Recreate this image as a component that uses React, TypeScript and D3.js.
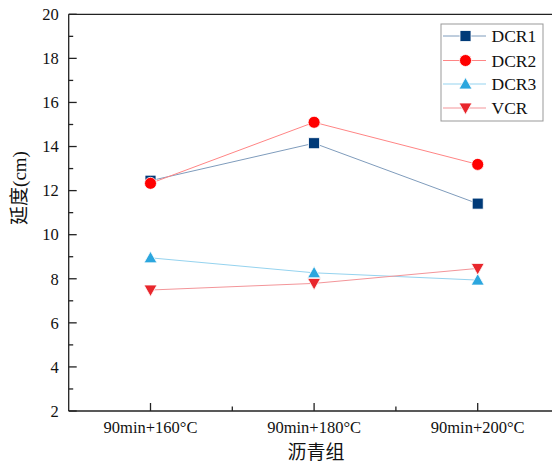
import React from "react";
import * as d3 from "d3";

const categories = ["90min+160°C", "90min+180°C", "90min+200°C"];
const dcr1 = [12.45, 14.15, 11.41];
const dcr2 = [12.33, 15.1, 13.19];
const dcr3 = [8.95, 8.27, 7.94];
const vcr = [7.49, 7.79, 8.47];
const yTicks = [2, 4, 6, 8, 10, 12, 14, 16, 18, 20];
const seriesNames = ["DCR1", "DCR2", "DCR3", "VCR"];

const W = 552;
const H = 464;
const left = 68.7;
const right = 559.5;
const top = 14.3;
const bottom = 411;

const SERIF = "Liberation Serif";
const CJK = "Noto Sans CJK SC";
const INK = "#111";

type Series = { name: string; values: number[]; color: string; line: string; shape: string };

const series: Series[] = [
  { name: seriesNames[0], values: dcr1, color: "#003a78", line: "#7f9cbc", shape: "square" },
  { name: seriesNames[1], values: dcr2, color: "#ff0000", line: "#ff8585", shape: "circle" },
  { name: seriesNames[2], values: dcr3, color: "#2ba6de", line: "#95d3ef", shape: "up" },
  { name: seriesNames[3], values: vcr, color: "#e8262c", line: "#f39599", shape: "down" },
];

function Marker({ shape, cx, cy, color }: { shape: string; cx: number; cy: number; color: string }) {
  const sw = 0.8;
  if (shape === "square") {
    return <rect x={cx - 5.5} y={cy - 5.5} width={11} height={11} fill={color} stroke="#fff" strokeWidth={sw} />;
  }
  if (shape === "circle") {
    return <circle cx={cx} cy={cy} r={6} fill={color} stroke="#fff" strokeWidth={sw} />;
  }
  if (shape === "up") {
    const p = `${cx},${cy - 6.5} ${cx + 6.5},${cy + 5} ${cx - 6.5},${cy + 5}`;
    return <polygon points={p} fill={color} stroke="#fff" strokeWidth={sw} />;
  }
  const p = `${cx},${cy + 6.5} ${cx + 6.5},${cy - 5} ${cx - 6.5},${cy - 5}`;
  return <polygon points={p} fill={color} stroke="#fff" strokeWidth={sw} />;
}

export default function App() {
  const x = d3.scaleLinear().domain([0.5, 3.5]).range([left, right]);
  const y = d3.scaleLinear().domain([2, 20]).range([bottom, top]);
  const minorY = d3.range(3, 20, 2);
  const minorX = [1.5, 2.5, 3.5];
  const line = d3
    .line<number>()
    .x((_, i) => x(i + 1))
    .y((d) => y(d));

  const legX = 441;
  const legRows = [36, 60.5, 84, 108];

  return (
    <svg
      width={W}
      height={H}
      style={{ position: "absolute", left: 0, top: 0, background: "#fff" }}
    >
      <rect x={0} y={0} width={W} height={H} fill="#fff" />
      {series.map((s) => (
        <path key={s.name + "l"} d={line(s.values) || ""} fill="none" stroke={s.line} strokeWidth={1} />
      ))}
      {series.map((s) => (
        <g key={s.name + "m"}>
          {s.values.map((v, i) => (
            <Marker key={i} shape={s.shape} cx={x(i + 1)} cy={y(v)} color={s.color} />
          ))}
        </g>
      ))}
      <line x1={left} x2={W} y1={top} y2={top} stroke="#222" strokeWidth={1.3} />
      <line x1={left} x2={left} y1={top} y2={bottom} stroke="#222" strokeWidth={1.3} />
      <line x1={left} x2={W} y1={bottom} y2={bottom} stroke="#222" strokeWidth={1.3} />
      {yTicks.map((t) => (
        <g key={"y" + t}>
          <line x1={left} x2={left + 8} y1={y(t)} y2={y(t)} stroke="#222" strokeWidth={1.3} />
          <text x={left - 10} y={y(t)} dy="0.35em" textAnchor="end" fontFamily={SERIF} fontSize={16.5} fill={INK}>
            {t}
          </text>
        </g>
      ))}
      {minorY.map((t) => (
        <line key={"my" + t} x1={left} x2={left + 4.5} y1={y(t)} y2={y(t)} stroke="#222" strokeWidth={1.3} />
      ))}
      {categories.map((c, i) => (
        <g key={c}>
          <line x1={x(i + 1)} x2={x(i + 1)} y1={bottom} y2={bottom - 8} stroke="#222" strokeWidth={1.3} />
          <text x={x(i + 1)} y={433} textAnchor="middle" fontFamily={SERIF} fontSize={16.5} fill={INK}>
            {c}
          </text>
        </g>
      ))}
      {minorX.map((t) => (
        <line key={"mx" + t} x1={x(t)} x2={x(t)} y1={bottom} y2={bottom - 4.5} stroke="#222" strokeWidth={1.3} />
      ))}
      <text x={316} y={459} textAnchor="middle" fontFamily={CJK} fontSize={19} fill={INK}>
        沥青组
      </text>
      <text transform={`translate(26, 188) rotate(-90)`} textAnchor="middle" fontSize={19} fill={INK}>
        <tspan fontFamily={CJK}>延度</tspan>
        <tspan fontFamily={SERIF}>(cm)</tspan>
      </text>
      <rect x={legX} y={24} width={102} height={97} fill="#fff" stroke="#999" strokeWidth={1} />
      {series.map((s, i) => (
        <g key={s.name + "leg"}>
          <line x1={legX + 2} x2={legX + 45} y1={legRows[i]} y2={legRows[i]} stroke={s.line} strokeWidth={1} />
          <Marker shape={s.shape} cx={legX + 24.5} cy={legRows[i]} color={s.color} />
          <text x={legX + 50.5} y={legRows[i]} dy="0.35em" fontFamily={SERIF} fontSize={17.5} fill={INK}>
            {s.name}
          </text>
        </g>
      ))}
    </svg>
  );
}
